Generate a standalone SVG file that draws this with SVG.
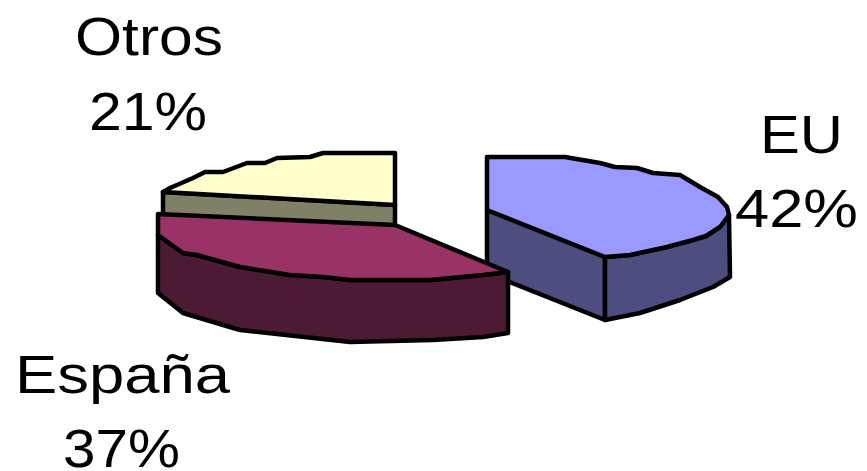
<svg xmlns="http://www.w3.org/2000/svg" width="867" height="471" viewBox="0 0 867 471">
<style>
.s{stroke:#000;stroke-width:4.5;stroke-linejoin:round}
.lbl{font-family:"Liberation Sans",Arial,sans-serif;font-size:53px;fill:#000}
</style>
<rect width="867" height="471" fill="#fff"/>
<g id="slice-eu">
<polygon class="s" fill="#4D4D80" points="487,210 605,257 605,320 487,273"/>
<polygon class="s" fill="#4D4D80" points="605,257 630,255 667,247 693,240 706,236 720,227 729,215 730,277 713,287 680,300 640,313 605,320"/>
<polygon class="s" fill="#9999FF" points="487,157 565,157 600,163 615,167 637,168 653,173 680,175 700,187 718,197 727,207 729,215 720,227 706,236 693,240 667,247 630,255 605,257 487,210"/>
</g>
<g id="slice-otros">
<polygon class="s" fill="#808066" points="395,205 163,192 163,255 395,268"/>
<polygon class="s" fill="#FFFFCC" points="395,153 323,153 310,157 277,158 265,163 247,163 223,172 205,172 193,178 170,188 163,192 395,205"/>
</g>
<g id="slice-espana">
<polygon class="s" fill="#4D1A33" points="508,272 483,275 430,280 350,280 323,277 290,275 240,267 197,255 183,253 158,235 158,293 183,313 240,330 350,342 433,340 483,337 508,333"/>
<polygon class="s" fill="#993366" points="395,225 508,272 483,275 430,280 350,280 323,277 290,275 240,267 197,255 183,253 158,235 158,214"/>
</g>
<g id="labels">
<text class="lbl" x="75" y="55" textLength="148" lengthAdjust="spacingAndGlyphs">Otros</text>
<text class="lbl" x="89" y="130" textLength="118" lengthAdjust="spacingAndGlyphs">21%</text>
<text class="lbl" x="760" y="153" textLength="83" lengthAdjust="spacingAndGlyphs">EU</text>
<text class="lbl" x="735" y="227" textLength="123" lengthAdjust="spacingAndGlyphs">42%</text>
<text class="lbl" x="15" y="393" textLength="215" lengthAdjust="spacingAndGlyphs">España</text>
<text class="lbl" x="63" y="467" textLength="117" lengthAdjust="spacingAndGlyphs">37%</text>
</g>
</svg>
